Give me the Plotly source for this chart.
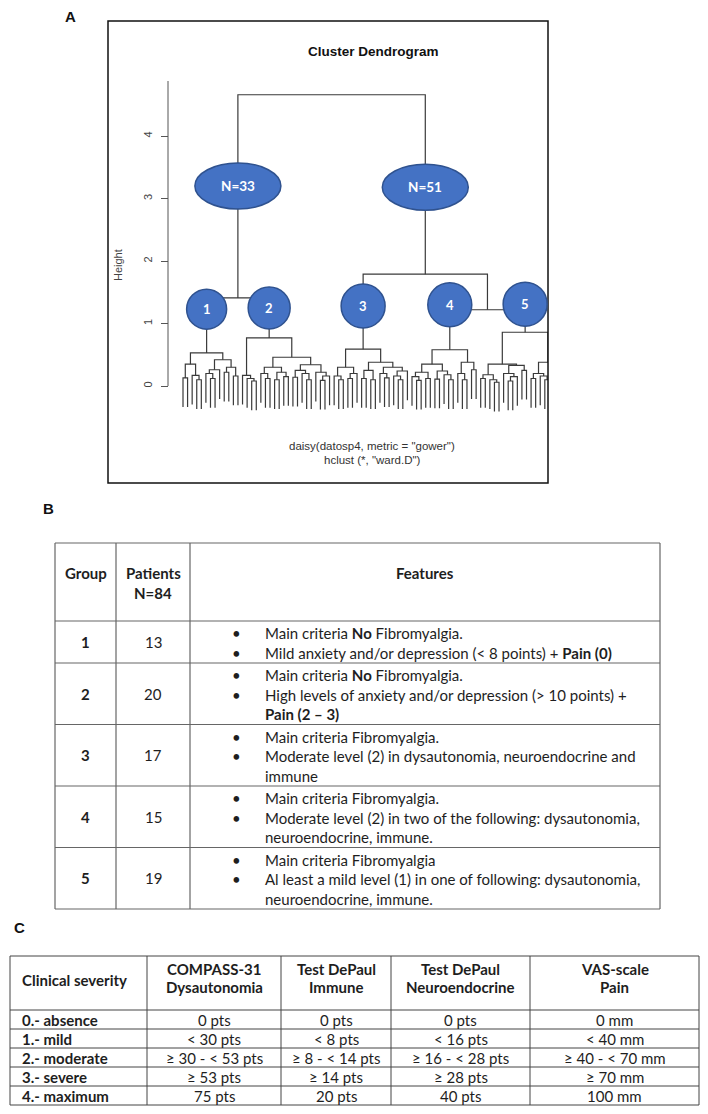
import plotly.graph_objects as go

# the page body keeps an 8px margin, so the figure is drawn 16px smaller
PAGE_W, PAGE_H, BODY_MARGIN = 708, 1114, 8
W, H = PAGE_W - 2 * BODY_MARGIN, PAGE_H - 2 * BODY_MARGIN

# ---------------------------------------------------------------- data
# Dendrogram: each merge is [height, left, right]; LEAF is one patient.
LEAF = None
cluster1 = [0.53,
            [0.35, [0.13, LEAF, LEAF], [0.17, LEAF, [0.10, LEAF, LEAF]]],
            [0.42, [0.26, [0.20, LEAF, [0.12, LEAF, LEAF]], LEAF],
             [0.30, [0.22, LEAF, LEAF], [0.16, LEAF, LEAF]]]]
cluster2 = [0.77,
            [0.17, LEAF, [0.12, LEAF, [0.08, LEAF, LEAF]]],
            [0.46,
             [0.30, [0.20, LEAF, [0.12, LEAF, LEAF]],
              [0.22, [0.10, LEAF, LEAF], [0.15, LEAF, LEAF]]],
             [0.34, [0.25, [0.14, LEAF, LEAF], [0.20, LEAF, [0.10, LEAF, LEAF]]],
              [0.22, LEAF, [0.16, [0.09, LEAF, LEAF], LEAF]]]]]
cluster3 = [0.59,
            [0.30, [0.16, LEAF, [0.10, LEAF, LEAF]], [0.20, [0.12, LEAF, LEAF], LEAF]],
            [0.38, [0.25, [0.12, LEAF, LEAF], [0.10, LEAF, LEAF]],
             [0.30, [0.20, LEAF, [0.13, LEAF, LEAF]],
              [0.24, [0.16, LEAF, [0.10, LEAF, LEAF]], LEAF]]]]
cluster4 = [0.58,
            [0.35, [0.22, [0.15, LEAF, [0.09, LEAF, LEAF]], [0.12, LEAF, LEAF]],
             [0.24, [0.11, LEAF, LEAF], [0.18, LEAF, [0.10, LEAF, LEAF]]]],
            [0.38, [0.20, LEAF, [0.10, LEAF, LEAF]], [0.26, LEAF, LEAF]]]
cluster5 = [0.86,
            [0.35, [0.18, [0.12, LEAF, LEAF], [0.10, LEAF, [0.06, LEAF, LEAF]]],
             [0.33, [0.20, LEAF, [0.15, [0.08, LEAF, LEAF], LEAF]], [0.25, LEAF, LEAF]]],
            [0.38, [0.20, [0.12, LEAF, LEAF], [0.16, LEAF, [0.10, LEAF, LEAF]]],
             [0.30, LEAF, [0.09, LEAF, LEAF]]]]
branch_33 = [1.41, cluster1, cluster2]
branch_51 = [1.79, cluster3, [1.22, cluster4, cluster5]]
root = [4.66, branch_33, branch_51]

cluster_names = ["1", "2", "3", "4", "5"]
branch_names = ["N=33", "N=51"]
height_ticks = [0, 1, 2, 3, 4]

# Table B
b_groups = ["1", "2", "3", "4", "5"]
b_patients = ["13", "20", "17", "15", "19"]
b_features = [
    [["Main criteria <b>No</b> Fibromyalgia."],
     ["Mild anxiety and/or depression (< 8 points) + <b>Pain (0)</b>"]],
    [["Main criteria <b>No</b> Fibromyalgia."],
     ["High levels of anxiety and/or depression (> 10 points) +", "<b>Pain (2 – 3)</b>"]],
    [["Main criteria Fibromyalgia."],
     ["Moderate level (2) in dysautonomia, neuroendocrine and", "immune"]],
    [["Main criteria Fibromyalgia."],
     ["Moderate level (2) in two of the following: dysautonomia,", "neuroendocrine, immune."]],
    [["Main criteria Fibromyalgia"],
     ["Al least a mild level (1) in one of following: dysautonomia,", "neuroendocrine, immune."]],
]

# Table C
c_header = [["Clinical severity"], ["COMPASS-31", "Dysautonomia"], ["Test DePaul", "Immune"],
            ["Test DePaul", "Neuroendocrine"], ["VAS-scale", "Pain"]]
c_severity = ["0.- absence", "1.- mild", "2.- moderate", "3.- severe", "4.- maximum"]
c_dysautonomia = ["0 pts", "< 30 pts", "≥ 30 - < 53 pts", "≥ 53 pts", "75 pts"]
c_immune = ["0 pts", "< 8 pts", "≥ 8 - < 14 pts", "≥ 14 pts", "20 pts"]
c_neuro = ["0 pts", "< 16 pts", "≥ 16 - < 28 pts", "≥ 28 pts", "40 pts"]
c_pain = ["0 mm", "< 40 mm", "≥ 40 - < 70 mm", "≥ 70 mm", "100 mm"]

# ---------------------------------------------------------------- style
ARIAL = "Liberation Sans, Arial, sans-serif"
BODY = "Lato, Calibri, sans-serif"
BLUE = "#4472C4"
BLUE_EDGE = "#2F528F"
INK = "#1e1e1e"
TXT = 15


def px(x):
    return (x - BODY_MARGIN) / W


def py(y):
    return 1 - (y - BODY_MARGIN) / H


# ---------------------------------------------------------------- dendrogram
HANG = 0.1 * root[0]
pos = {}
counter = [0]
seg_x, seg_y = [], []


def place(node):
    if node is LEAF:
        counter[0] += 1
        return counter[0], None
    h, left, right = node
    xl, hl = place(left)
    xr, hr = place(right)
    bl = h - HANG if hl is None else hl
    br = h - HANG if hr is None else hr
    seg_x.extend([xl, xl, xr, xr, None])
    seg_y.extend([bl, h, h, br, None])
    pos[id(node)] = (xl + xr) / 2
    return pos[id(node)], h


place(root)

fig = go.Figure()
fig.add_trace(go.Scatter(x=seg_x, y=seg_y, mode="lines",
                         line=dict(color="#3a3a3a", width=1.2),
                         hoverinfo="skip", showlegend=False))

# plot region of the R device (box), leaf 1 at 183px, 4.58px per leaf
LEAF0, LEAF_STEP = 183, 4.58
ZERO_Y, UNIT_Y = 386, 62.5
fig.update_layout(
    xaxis=dict(domain=[px(108), px(548)],
               range=[1 + (108 - LEAF0) / LEAF_STEP, 1 + (548 - LEAF0) / LEAF_STEP],
               visible=False),
    yaxis=dict(domain=[py(483), py(21)],
               range=[(ZERO_Y - 483) / UNIT_Y, (ZERO_Y - 21) / UNIT_Y],
               anchor="free", position=px(168),
               tickvals=height_ticks, ticks="outside", ticklen=7,
               tickcolor="#555", tickangle=-90, showgrid=False,
               zeroline=False, showline=False, ticklabelstandoff=5,
               tickfont=dict(family=ARIAL, size=11, color="#444")),
)

shapes = []
annotations = []

# axis line and outer box
shapes.append(dict(type="line", xref="paper", yref="y", x0=px(168), x1=px(168),
                   y0=0, y1=4.88, line=dict(color="#555", width=1)))
shapes.append(dict(type="rect", xref="paper", yref="paper", x0=px(108), x1=px(548),
                   y0=py(483), y1=py(21), line=dict(color="#111", width=1.5)))

# cluster badges
clusters = [cluster1, cluster2, cluster3, cluster4, cluster5]
badge_h = [1.23, 1.25, 1.28, 1.30, 1.31]
badge_r = [20, 21, 22, 22, 22]
for node, name, yb, r in zip(clusters, cluster_names, badge_h, badge_r):
    xb = pos[id(node)]
    shapes.append(dict(type="circle", xref="x", yref="y", xsizemode="pixel",
                       ysizemode="pixel", xanchor=xb, yanchor=yb,
                       x0=-r, x1=r, y0=-r, y1=r, fillcolor=BLUE,
                       line=dict(color=BLUE_EDGE, width=1.5), layer="above"))
    annotations.append(dict(x=xb, y=yb, xref="x", yref="y", text=f"<b>{name}</b>",
                            showarrow=False, font=dict(family=BODY, size=13, color="white")))

for node, name, yb in zip([branch_33, branch_51], branch_names, [3.2, 3.18]):
    xb = pos[id(node)]
    shapes.append(dict(type="circle", xref="x", yref="y", xsizemode="pixel",
                       ysizemode="pixel", xanchor=xb, yanchor=yb,
                       x0=-43, x1=43, y0=-23, y1=23, fillcolor=BLUE,
                       line=dict(color=BLUE_EDGE, width=1.5), layer="above"))
    annotations.append(dict(x=xb, y=yb, xref="x", yref="y", text=f"<b>{name}</b>",
                            showarrow=False, font=dict(family=BODY, size=13.5, color="white")))


def note(x, y, text, size=TXT, family=BODY, color=INK, anchor="center", angle=0):
    annotations.append(dict(x=px(x), y=py(y), xref="paper", yref="paper", text=text,
                            showarrow=False, xanchor=anchor, yanchor="middle",
                            textangle=angle,
                            font=dict(family=family, size=size, color=color)))


note(373, 52, "<b>Cluster Dendrogram</b>", size=13.5, family=ARIAL, color="#111")
note(118, 265, "Height", size=11, family=ARIAL, color="#444", angle=-90)
note(372, 446, 'daisy(datosp4, metric = "gower")', size=11.5, family=ARIAL, color="#333")
note(372, 460, 'hclust (*, "ward.D")', size=11.5, family=ARIAL, color="#333")

# panel letters
note(70, 16, "<b>A</b>", size=15, family=ARIAL, color="#111")
note(48, 508, "<b>B</b>", size=15, family=ARIAL, color="#111")
note(20, 927, "<b>C</b>", size=15, family=ARIAL, color="#111")


def hline(x0, x1, y, color="#666", width=1.2):
    shapes.append(dict(type="line", xref="paper", yref="paper", x0=px(x0), x1=px(x1),
                       y0=py(y), y1=py(y), line=dict(color=color, width=width)))


def vline(x, y0, y1, color="#666", width=1.2):
    shapes.append(dict(type="line", xref="paper", yref="paper", x0=px(x), x1=px(x),
                       y0=py(y0), y1=py(y1), line=dict(color=color, width=width)))


# ---------------------------------------------------------------- table B
LINE = 19.5
b_cols = [55, 116, 190, 660]
b_top, b_head = 543, 78
row_tops = [b_top, b_top + b_head]
for feats in b_features:
    n_lines = sum(len(item) for item in feats)
    row_tops.append(row_tops[-1] + LINE * n_lines + 3)
for y in row_tops:
    hline(b_cols[0], b_cols[-1], y)
for x in b_cols:
    vline(x, row_tops[0], row_tops[-1])

note((b_cols[0] + b_cols[1]) / 2, 573, "<b>Group</b>")
note((b_cols[1] + b_cols[2]) / 2, 573, "<b>Patients</b>")
note((b_cols[1] + b_cols[2]) / 2, 593, "<b>N=84</b>")
note((b_cols[2] + b_cols[3]) / 2, 573, "<b>Features</b>")

for i, (g, n, feats) in enumerate(zip(b_groups, b_patients, b_features)):
    top, bottom = row_tops[i + 1], row_tops[i + 2]
    mid = (top + bottom) / 2
    note((b_cols[0] + b_cols[1]) / 2, mid, f"<b>{g}</b>")
    note((b_cols[1] + b_cols[2]) / 2, mid, n)
    k = 0
    for item in feats:
        note(236, top + 12 + LINE * k, "•")
        for line in item:
            note(263, top + 12 + LINE * k, line, anchor="left")
            k += 1

# ---------------------------------------------------------------- table C
c_cols = [10, 147, 281, 391, 530, 699]
c_top, c_head_bottom, c_row = 956, 1010, 19
c_lines = [c_top, c_head_bottom] + [c_head_bottom + c_row * (i + 1) for i in range(len(c_severity))]
for y in c_lines:
    hline(c_cols[0], c_cols[-1], y, color="#444", width=1)
for x in c_cols:
    vline(x, c_lines[0], c_lines[-1], color="#444", width=1)

note(20, 980, "<b>Clinical severity</b>", anchor="left")
for j, head in enumerate(c_header[1:], start=1):
    cx = (c_cols[j] + c_cols[j + 1]) / 2
    for k, line in enumerate(head):
        note(cx, 969 + 18 * k, f"<b>{line}</b>")

columns = [c_dysautonomia, c_immune, c_neuro, c_pain]
for i, sev in enumerate(c_severity):
    cy = c_head_bottom + c_row * (i + 0.5)
    note(20, cy, f"<b>{sev}</b>", anchor="left")
    for j, col in enumerate(columns, start=1):
        note((c_cols[j] + c_cols[j + 1]) / 2, cy, col[i])

fig.update_layout(
    width=W, height=H, autosize=False,
    margin=dict(l=0, r=0, t=0, b=0),
    paper_bgcolor="white", plot_bgcolor="white",
    showlegend=False,
    shapes=shapes, annotations=annotations,
)

fig.write_html("out.html", config={"displayModeBar": False})
